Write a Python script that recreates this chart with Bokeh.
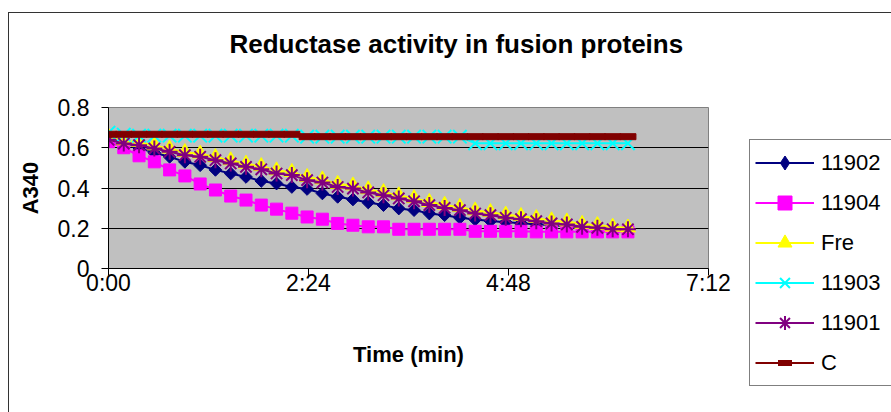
from bokeh.plotting import figure
from bokeh.layouts import row
from bokeh.models import FixedTicker, Legend, LegendItem, InlineStyleSheet, Title
from bokeh.embed import file_html
from bokeh.resources import INLINE

# ---- data ----
time_s = [0, 11, 22, 33, 44, 55, 66, 77, 88, 99, 110, 121, 132, 143, 154, 165, 176, 187,
          198, 209, 220, 231, 242, 253, 264, 275, 286, 297, 308, 319, 330, 341, 352, 363, 374]

s11902 = [0.645, 0.625, 0.60, 0.575, 0.555, 0.53, 0.513, 0.49, 0.472, 0.455, 0.435, 0.422,
          0.405, 0.395, 0.373, 0.356, 0.343, 0.328, 0.315, 0.298, 0.29, 0.273, 0.265, 0.252,
          0.243, 0.236, 0.23, 0.225, 0.22, 0.215, 0.21, 0.205, 0.2, 0.197, 0.195]
s11904 = [0.63, 0.60, 0.56, 0.53, 0.49, 0.46, 0.42, 0.39, 0.36, 0.34, 0.315, 0.295, 0.275,
          0.256, 0.245, 0.224, 0.215, 0.207, 0.207, 0.195, 0.195, 0.195, 0.195, 0.195, 0.185,
          0.185, 0.185, 0.185, 0.182, 0.182, 0.182, 0.182, 0.182, 0.182, 0.182]
sFre = [0.655, 0.636, 0.628, 0.611, 0.595, 0.578, 0.570, 0.553, 0.537, 0.520, 0.508, 0.487,
        0.479, 0.454, 0.442, 0.420, 0.412, 0.393, 0.379, 0.363, 0.349, 0.330, 0.316, 0.305,
        0.288, 0.280, 0.267, 0.260, 0.250, 0.239, 0.233, 0.221, 0.215, 0.207, 0.203]
s11903 = [0.675, 0.665, 0.66, 0.66, 0.66, 0.66, 0.66, 0.66, 0.66, 0.66, 0.66, 0.66, 0.66,
          0.655, 0.655, 0.655, 0.655, 0.655, 0.655, 0.655, 0.655, 0.655, 0.655, 0.655, 0.622,
          0.622, 0.622, 0.622, 0.622, 0.622, 0.622, 0.622, 0.622, 0.622, 0.622]
s11901 = [0.64, 0.621, 0.613, 0.596, 0.58, 0.563, 0.555, 0.538, 0.522, 0.505, 0.493, 0.472,
          0.464, 0.439, 0.427, 0.405, 0.397, 0.378, 0.364, 0.348, 0.334, 0.315, 0.301, 0.29,
          0.273, 0.265, 0.252, 0.245, 0.235, 0.224, 0.219, 0.207, 0.202, 0.195, 0.195]
sC = [0.667, 0.667, 0.667, 0.667, 0.667, 0.667, 0.667, 0.667, 0.667, 0.667, 0.667, 0.667,
      0.667, 0.655, 0.655, 0.655, 0.655, 0.655, 0.655, 0.655, 0.655, 0.655, 0.655, 0.655,
      0.655, 0.655, 0.655, 0.655, 0.655, 0.655, 0.655, 0.655, 0.655, 0.655, 0.655]

series_names = ["11902", "11904", "Fre", "11903", "11901", "C"]
series_values = [s11902, s11904, sFre, s11903, s11901, sC]

x_ticks = [0, 144, 288, 432]
x_tick_labels = ["0:00", "2:24", "4:48", "7:12"]
y_ticks = [0, 0.2, 0.4, 0.6, 0.8]
y_tick_labels = ["0", "0.2", "0.4", "0.6", "0.8"]

FONT = "Liberation Sans"
COLORS = ["#000080", "#FF00FF", "#FFFF00", "#00FFFF", "#800080", "#800000"]


def add_series(fig, idx, xs, ys, legend_mode=False):
    c = COLORS[idx]
    l = fig.line(xs, ys, color=c, line_width=2)
    if idx == 0:
        if legend_mode:
            m = fig.scatter(xs, ys, marker="diamond", size=14, fill_color=c, line_color=c)
        else:
            m = fig.scatter(xs, ys, marker="square", size=9, angle=0.785398,
                            fill_color=c, line_color=c)
    elif idx == 1:
        m = fig.scatter(xs, ys, marker="square", size=12, fill_color=c, line_color=c)
    elif idx == 2:
        m = fig.scatter(xs, ys, marker="triangle", size=15, fill_color=c, line_color=c)
    elif idx == 3:
        m = fig.scatter(xs, ys, marker="x", size=19, line_width=2, line_color=c)
    elif idx == 4:
        m = fig.scatter(xs, ys, marker="asterisk", size=16, line_width=2, line_color=c)
    else:
        if legend_mode:
            m = fig.scatter(xs, ys, marker="dash", size=16, line_width=6, line_color=c)
        else:
            m = fig.rect(xs, ys, width=16, height=6, width_units="screen",
                         height_units="screen", fill_color=c, line_color=c)
    return [l, m]


# ---------------- main chart ----------------
p = figure(width=740, height=412, output_backend="svg", toolbar_location=None,
           title=None, x_range=(0, 432), y_range=(0, 0.8),
           min_border_left=108, min_border_right=32, min_border_top=107, min_border_bottom=144)
p.frame_align = False
p.background_fill_color = "#C0C0C0"
p.border_fill_color = "white"
p.outline_line_color = "#808080"

# spacer (closest to frame) then the real title
p.add_layout(Title(text=" ", text_font_size="1px", standoff=41), "above")
p.add_layout(Title(text="Reductase activity in fusion proteins", text_font=FONT,
                   text_font_style="bold", text_font_size="26px", text_color="black",
                   align="left", offset=121, standoff=10), "above")

p.xaxis.ticker = FixedTicker(ticks=x_ticks)
p.xaxis.major_label_overrides = dict(zip(x_ticks, x_tick_labels))
p.yaxis.ticker = FixedTicker(ticks=y_ticks)
p.yaxis.major_label_overrides = dict(zip(y_ticks, y_tick_labels))
for ax in (p.xaxis, p.yaxis):
    ax.major_label_text_font = FONT
    ax.major_label_text_font_size = "23px"
    ax.major_label_text_color = "black"
    ax.axis_label_text_font = FONT
    ax.axis_label_text_font_size = "22px"
    ax.axis_label_text_font_style = "bold"
    ax.axis_label_text_color = "black"
    ax.axis_line_color = "black"
    ax.major_tick_line_color = "black"
    ax.major_tick_out = 7
    ax.major_tick_in = 0
    ax.minor_tick_line_color = None
p.xaxis.axis_label = "Time (min)"
p.yaxis.axis_label = "A340"
p.xaxis.major_label_standoff = -6
p.xaxis.axis_label_standoff = 43
p.yaxis.major_label_standoff = 12
p.yaxis.axis_label_standoff = 12

p.xgrid.grid_line_color = None
p.ygrid.ticker = FixedTicker(ticks=y_ticks)
p.ygrid.grid_line_color = "black"
p.ygrid.grid_line_width = 1

for i, vals in enumerate(series_values):
    add_series(p, i, time_s, vals)

# ---------------- legend panel ----------------
# the same series are drawn here outside the visible range, only to feed the legend glyphs
lg = figure(width=151, height=412, output_backend="svg", toolbar_location=None,
            title=None, x_range=(-2000, -1000), y_range=(0, 1),
            x_axis_type=None, y_axis_type=None, min_border=0)
lg.frame_align = False
lg.background_fill_color = "white"
lg.border_fill_color = "white"
lg.outline_line_color = None
lg.xgrid.grid_line_color = None
lg.ygrid.grid_line_color = None

items = []
for i, name in enumerate(series_names):
    rs = add_series(lg, i, time_s, series_values[i], legend_mode=True)
    items.append(LegendItem(label=name, renderers=rs))

legend = Legend(items=items, location=(9, 26),
                label_text_font=FONT, label_text_font_size="22px", label_text_color="black",
                glyph_width=59, glyph_height=35, label_height=35, label_width=80,
                label_standoff=7, spacing=5, padding=5, margin=0,
                border_line_color="black", border_line_width=1,
                background_fill_color="white", background_fill_alpha=1)
lg.add_layout(legend, "center")

layout = row(p, lg, spacing=0)
layout.stylesheets = [InlineStyleSheet(css=(
    ":host{position:relative;}"
    ":host::after{content:'';position:absolute;left:8px;top:12px;right:0;bottom:0;"
    "border-left:1px solid #333;border-top:1px solid #333;pointer-events:none;}"))]

open("out.html", "w").write(file_html(layout, INLINE))
